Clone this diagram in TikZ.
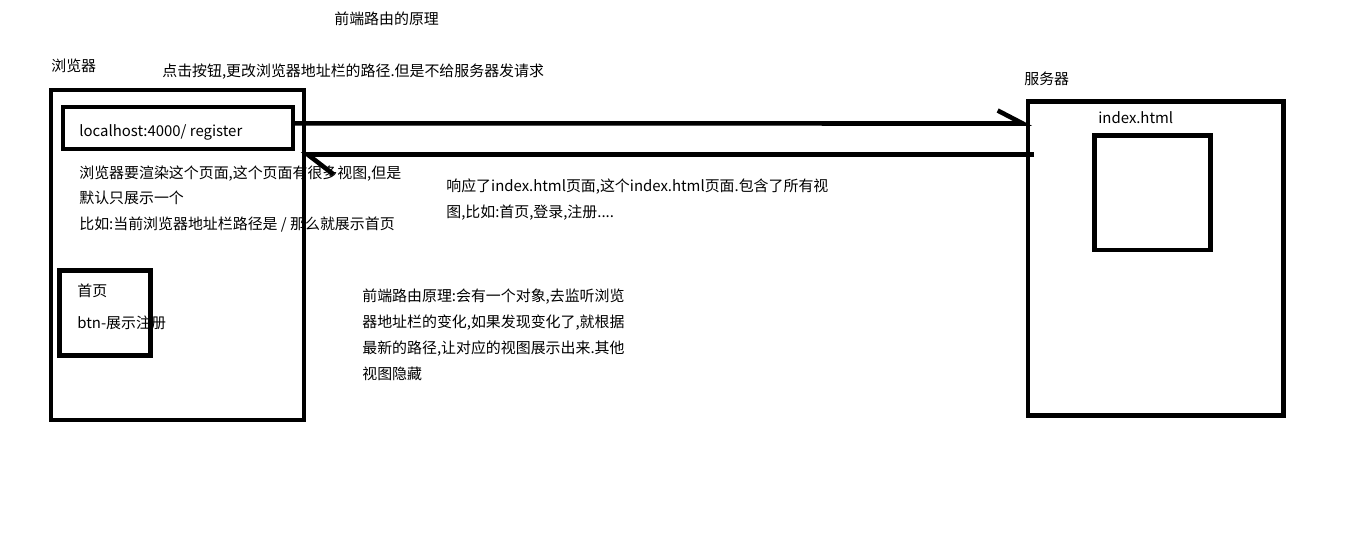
\documentclass[tikz,border=0pt]{standalone}
\usepackage{fontspec}
\setmainfont{Noto Sans CJK SC}
\usetikzlibrary{arrows.meta,calc}
\tikzset{
    pagebox/.style={
        rectangle,                % marco simple
        draw=black,               % trazo negro, como dibujado a mano
        line width=2.6pt,         % borde grueso
        inner sep=0pt,            % sin relleno interior
        outer sep=0pt,            % el ancla cae justo sobre el trazo
        anchor=north west         % se coloca por la esquina superior izquierda
    },
    notetext/.style={
        anchor=west,              % el texto arranca en la coordenada dada
        inner sep=0pt,
        align=left,               % párrafos alineados a la izquierda
        font=\fontsize{8.5}{14.74}\selectfont
    },
    reqarrow/.style 2 args={
        line width=2.6pt,         % mismo grosor que los marcos
        -{Straight Barb[left,length=#1,width=#2]} % punta de un solo lado
    }
}

\begin{document}
\begin{tikzpicture}[x=0.02cm,y=-0.02cm]
    \useasboundingbox (0,0) rectangle (1360,541);

    \node[pagebox, minimum width=5.06cm, minimum height=6.6cm] (browser) at (51,90) {};
    \node[pagebox, minimum width=4.6cm, minimum height=0.84cm] (addr) at (63,107) {};
    \node[pagebox, minimum width=1.82cm, minimum height=1.7cm] (home) at (59.5,270.5) {};
    \node[pagebox, minimum width=5.11cm, minimum height=6.28cm] (server) at (1028,101.5) {};
    \node[pagebox, minimum width=2.32cm, minimum height=2.29cm] (view) at (1094.5,135.5) {};

    \node[notetext] (title) at (334,19) {前端路由的原理};
    \node[notetext] (browserlbl) at (51,66) {浏览器};
    \node[notetext] (clicklbl) at (162,72) {点击按钮,更改浏览器地址栏的路径.但是不给服务器发请求};
    \node[notetext] (serverlbl) at (1024,79) {服务器};
    \node[notetext] (url) at (79,132) {localhost:4000/ register};
    \node[notetext] (index) at (1098,118) {index.html};
    \node[notetext] (render) at (79,199) {浏览器要渲染这个页面,这个页面有很多视图,但是\\默认只展示一个\\比如:当前浏览器地址栏路径是 / 那么就展示首页};
    \node[notetext] (resp) at (446,200) {响应了index.html页面,这个index.html页面.包含了所有视\\图,比如:首页,登录,注册....};
    \node[notetext] (homelbl) at (77,291) {首页};
    \node[notetext] (btn) at (77,323) {btn-展示注册};
    \node[notetext] (principle) at (362,335) {前端路由原理:会有一个对象,去监听浏览\\器地址栏的变化,如果发现变化了,就根据\\最新的路径,让对应的视图展示出来.其他\\视图隐藏};

    \coordinate (reqstart) at ($(addr.north east)!0.39!(addr.south east)$);
    \coordinate (reqend) at ($(server.north west)+(4,22)$);
    \coordinate (respstart) at ($(server.north west)+(6,53)$);
    \coordinate (respend) at ($(browser.north east)+(-3,64.5)$);

    \draw[reqarrow={0.5cm}{0.52cm}] (reqstart) -- (reqend);
    \draw[reqarrow={0.52cm}{0.8cm}] (respstart) -- (respend);
\end{tikzpicture}
\end{document}
